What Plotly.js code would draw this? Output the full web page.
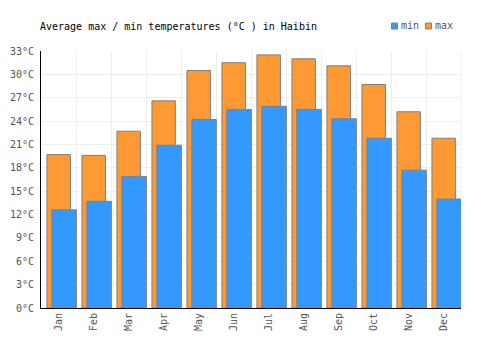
<!DOCTYPE html>
<html>
<head>
<meta charset="utf-8">
<script src="https://cdn.plot.ly/plotly-3.0.1.min.js"></script>
<style>html,body{margin:0;padding:0;background:#fff;}#chart{width:500px;height:350px;}</style>
</head>
<body>
<div id="chart"></div>
<script>
var months = ["Jan","Feb","Mar","Apr","May","Jun","Jul","Aug","Sep","Oct","Nov","Dec"];
var maxTemps = [19.7, 19.6, 22.7, 26.6, 30.5, 31.5, 32.5, 32.0, 31.1, 28.7, 25.2, 21.8];
var minTemps = [12.6, 13.7, 16.9, 20.9, 24.2, 25.5, 25.9, 25.5, 24.3, 21.8, 17.7, 14.0];
var yTicks = [0,3,6,9,12,15,18,21,24,27,30,33];

var MONO = "DejaVu Sans Mono, monospace";
var ORANGE = "#ff9933", BLUE = "#3399ff", EDGE = "#808080";

// plot area in pixels: x 41..461, y 51..308
function px(x){ return (x-41)/420; }
function py(y){ return (308-y)/257; }

var traces = [
  {type:"bar", name:"max", x:months, y:maxTemps, offset:-0.33, width:0.67,
   marker:{color:ORANGE, line:{color:EDGE, width:1}}, showlegend:false, hoverinfo:"y"},
  {type:"bar", name:"min", x:months, y:minTemps, offset:-0.19, width:0.70,
   marker:{color:BLUE, line:{color:EDGE, width:1}}, showlegend:false, hoverinfo:"y"}
];

var layout = {
  width:500, height:350,
  margin:{l:41, r:39, t:51, b:42, pad:0},
  paper_bgcolor:"#fff", plot_bgcolor:"#fff",
  barmode:"overlay",
  showlegend:false,
  title:{text:"Average max / min temperatures (°C ) in Haibin", x:40/500, xanchor:"left",
         xref:"container", y:1-26/350, yanchor:"middle", yref:"container",
         font:{family:MONO, size:10, color:"#000"}},
  xaxis:{type:"category", range:[-0.5,11.5], tickson:"boundaries", showgrid:true, gridcolor:"#eeeeee",
         showline:true, linecolor:"#000", linewidth:1, ticks:"outside", ticklen:3, tickcolor:"rgba(0,0,0,0)",
         tickangle:-90, tickfont:{family:MONO, size:10, color:"#555"}, fixedrange:true, mirror:false},
  yaxis:{range:[0,33], tickvals:yTicks, ticktext:yTicks.map(function(v){return v+"°C";}),
         showgrid:true, gridcolor:"#eeeeee", zeroline:false,
         showline:true, linecolor:"#000", linewidth:1, ticks:"outside", ticklen:4, tickcolor:"rgba(0,0,0,0)",
         tickfont:{family:MONO, size:10, color:"#555"}, fixedrange:true},
  shapes:[
    {type:"line", xref:"paper", yref:"paper", x0:1, x1:1, y0:0, y1:1, line:{color:"#eeeeee", width:1}, layer:"below"},
    {type:"rect", xref:"paper", yref:"paper", x0:px(391.5), x1:px(397.5), y0:py(29), y1:py(23),
     fillcolor:BLUE, line:{color:EDGE, width:1}},
    {type:"rect", xref:"paper", yref:"paper", x0:px(425.5), x1:px(431.5), y0:py(29), y1:py(23),
     fillcolor:ORANGE, line:{color:EDGE, width:1}}
  ],
  annotations:[
    {text:traces[1].name, xref:"paper", yref:"paper", x:px(399), y:py(26), xanchor:"left", yanchor:"middle",
     showarrow:false, font:{family:MONO, size:10, color:"#555"}},
    {text:traces[0].name, xref:"paper", yref:"paper", x:px(433), y:py(26), xanchor:"left", yanchor:"middle",
     showarrow:false, font:{family:MONO, size:10, color:"#555"}}
  ]
};

Plotly.newPlot("chart", traces, layout, {displayModeBar:false, staticPlot:true});
</script>
</body>
</html>
